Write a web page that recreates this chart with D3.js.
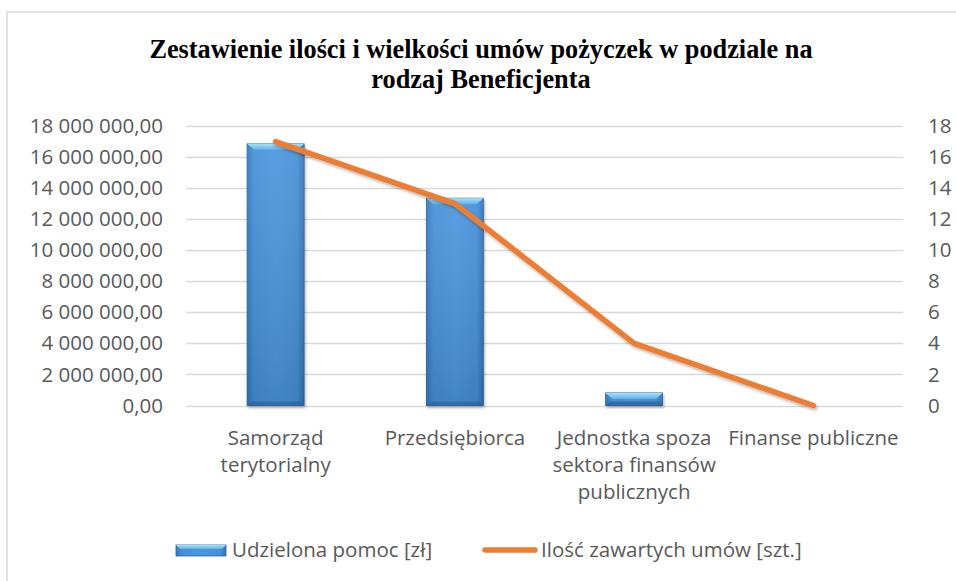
<!DOCTYPE html>
<html><head><meta charset="utf-8">
<script src="https://cdn.jsdelivr.net/npm/d3@7"></script>
<style>
html,body{margin:0;padding:0;background:#fff;}
svg{display:block;}
</style></head>
<body>
<svg id="chart" width="956" height="581"></svg>
<script>
const title = ["Zestawienie ilości i wielkości umów pożyczek w podziale na", "rodzaj Beneficjenta"];
const categories = ["Samorząd terytorialny", "Przedsiębiorca", "Jednostka spoza sektora finansów publicznych", "Finanse publiczne"];
const aidValues = [16850000, 13350000, 810000, 0];
const contractCounts = [17, 13, 4, 0];
const leftTicks = [0, 2000000, 4000000, 6000000, 8000000, 10000000, 12000000, 14000000, 16000000, 18000000];
const rightTicks = [0, 2, 4, 6, 8, 10, 12, 14, 16, 18];
const seriesNames = ["Udzielona pomoc [zł]", "Ilość zawartych umów [szt.]"];

const W = 956, H = 581;
const FONT = "'Open Sans', sans-serif";
const FS = 20.5;
const TXT = "#595959";
const svg = d3.select("#chart");

const defs = svg.append("defs");
const g1 = defs.append("linearGradient").attr("id","barGrad").attr("x1",0).attr("y1",0).attr("x2",1).attr("y2",0);
g1.append("stop").attr("offset","0%").attr("stop-color","#3677bd");
g1.append("stop").attr("offset","12%").attr("stop-color","#4590d8");
g1.append("stop").attr("offset","50%").attr("stop-color","#4b96de");
g1.append("stop").attr("offset","88%").attr("stop-color","#4590d8");
g1.append("stop").attr("offset","100%").attr("stop-color","#3272b6");
const g2 = defs.append("linearGradient").attr("id","barV").attr("x1",0).attr("y1",0).attr("x2",0).attr("y2",1);
g2.append("stop").attr("offset","0%").attr("stop-color","#ffffff").attr("stop-opacity",0.08);
g2.append("stop").attr("offset","100%").attr("stop-color","#000000").attr("stop-opacity",0.12);
const bev = defs.append("linearGradient").attr("id","bevel").attr("x1",0).attr("y1",0).attr("x2",0).attr("y2",1);
bev.append("stop").attr("offset","0%").attr("stop-color","#a6e2f7");
bev.append("stop").attr("offset","100%").attr("stop-color","#5fb1ea");
const sh = defs.append("filter").attr("id","shadow").attr("x","-20%").attr("y","-20%").attr("width","140%").attr("height","140%");
sh.append("feDropShadow").attr("dx",1).attr("dy",2).attr("stdDeviation",1.5).attr("flood-color","#000").attr("flood-opacity",0.3);

// frame
svg.append("rect").attr("x",7).attr("y",12).attr("width",W).attr("height",H)
  .attr("fill","#fff").attr("stroke","#d9d9d9").attr("stroke-width",1.5);

// title
svg.append("text").attr("x",481).attr("text-anchor","middle")
  .attr("font-family","'Liberation Serif','Times New Roman',serif").attr("font-weight","bold")
  .attr("font-size",26.3).attr("fill","#000")
  .selectAll("tspan").data(title).join("tspan")
  .attr("x",481).attr("y",(d,i)=>58+i*30).text(d=>d);

const plot = {left:186, right:903, top:126, bottom:405.5};
const x = d3.scaleBand().domain(categories).range([plot.left, plot.right]).padding(0);
const yL = d3.scaleLinear().domain([0,18000000]).range([plot.bottom, plot.top]);
const yR = d3.scaleLinear().domain([0,18]).range([plot.bottom, plot.top]);

const fmt = v => {
  const s = d3.format(",.2f")(v);
  return s.replace(/,/g," ").replace(/\.(\d\d)$/, ",$1");
};

// gridlines
svg.append("g").selectAll("line").data(leftTicks).join("line")
  .attr("x1",plot.left).attr("x2",plot.right)
  .attr("y1",d=>Math.round(yL(d))+0.5).attr("y2",d=>Math.round(yL(d))+0.5)
  .attr("stroke","#d9d9d9").attr("stroke-width",1.3);

// left axis
const axL = svg.append("g").attr("transform",`translate(${plot.left},0)`)
  .call(d3.axisLeft(yL).tickValues(leftTicks).tickFormat(fmt).tickSize(0).tickPadding(23));
axL.select(".domain").remove();
axL.selectAll("text").attr("font-family",FONT).attr("font-size",FS).attr("fill",TXT);

// right axis
const axR = svg.append("g").attr("transform",`translate(${plot.right},0)`)
  .call(d3.axisRight(yR).tickValues(rightTicks).tickFormat(d3.format("d")).tickSize(0).tickPadding(25));
axR.select(".domain").remove();
axR.selectAll("text").attr("font-family",FONT).attr("font-size",FS).attr("fill",TXT);

// bars
const bw = x.bandwidth()*0.318;
const bars = svg.append("g").selectAll("g").data(categories.map((c,i)=>({c,v:aidValues[i]})).filter(d=>d.v>0)).join("g")
  .attr("filter","url(#shadow)");
bars.append("rect")
  .attr("x",d=>x(d.c)+x.bandwidth()/2-bw/2).attr("y",d=>yL(d.v))
  .attr("width",bw).attr("height",d=>plot.bottom-yL(d.v))
  .attr("fill","url(#barGrad)").attr("stroke","#2c649f").attr("stroke-width",0.8);
bars.append("rect")
  .attr("x",d=>x(d.c)+x.bandwidth()/2-bw/2).attr("y",d=>yL(d.v))
  .attr("width",bw).attr("height",d=>plot.bottom-yL(d.v))
  .attr("fill","url(#barV)");
bars.append("path")
  .attr("d",d=>{
    const x0=x(d.c)+x.bandwidth()/2-bw/2, x1=x0+bw, y0=yL(d.v);
    const h=Math.min(6,(plot.bottom-y0)/2), b=Math.min(7,h*1.2);
    return `M${x0},${y0}L${x1},${y0}L${x1-b},${y0+h}L${x0+b},${y0+h}Z`;
  }).attr("fill","url(#bevel)");
bars.append("path")
  .attr("d",d=>{
    const x0=x(d.c)+x.bandwidth()/2-bw/2, x1=x0+bw, y1=plot.bottom;
    const h=Math.min(4,(plot.bottom-yL(d.v))/3), b=Math.min(5,h*1.2);
    return `M${x0},${y1}L${x1},${y1}L${x1-b},${y1-h}L${x0+b},${y1-h}Z`;
  }).attr("fill","#2a5f99").attr("opacity",0.6);

// line
const line = d3.line().x((d,i)=>x(categories[i])+x.bandwidth()/2).y(d=>yR(d));
svg.append("path").datum(contractCounts).attr("d",line)
  .attr("fill","none").attr("stroke","#ed7d31").attr("stroke-width",5.5)
  .attr("stroke-linecap","round").attr("stroke-linejoin","round").attr("filter","url(#shadow)");

// category labels
const catG = svg.append("g");
categories.forEach((c,i)=>{
  const t = catG.append("text").attr("text-anchor","middle").attr("font-family",FONT)
    .attr("font-size",FS).attr("fill",TXT);
  const cx = x(c)+x.bandwidth()/2;
  const words = c.split(" ");
  let lines=[], cur=[];
  const tmp = t.append("tspan");
  words.forEach(w=>{
    const trial = cur.concat([w]).join(" ");
    tmp.text(trial);
    if (tmp.node().getComputedTextLength() > x.bandwidth() && cur.length){ lines.push(cur.join(" ")); cur=[w]; }
    else cur.push(w);
  });
  lines.push(cur.join(" "));
  tmp.remove();
  lines.forEach((l,j)=>t.append("tspan").attr("x",cx).attr("y",445+j*27).text(l));
});

// legend
const leg = svg.append("g");
leg.append("rect").attr("x",176).attr("y",545).attr("width",50).attr("height",11)
  .attr("fill","url(#barGrad)").attr("stroke","#2c649f").attr("stroke-width",0.8);
leg.append("path").attr("d","M176,545L226,545L222,549L180,549Z").attr("fill","url(#bevel)");
leg.append("text").attr("x",232).attr("y",557).attr("font-family",FONT).attr("font-size",FS).attr("fill",TXT).text(seriesNames[0]);
leg.append("line").attr("x1",485).attr("x2",535).attr("y1",550).attr("y2",550)
  .attr("stroke","#ed7d31").attr("stroke-width",5.5).attr("stroke-linecap","round");
leg.append("text").attr("x",541).attr("y",557).attr("font-family",FONT).attr("font-size",FS).attr("fill",TXT).text(seriesNames[1]);
</script>
</body></html>
